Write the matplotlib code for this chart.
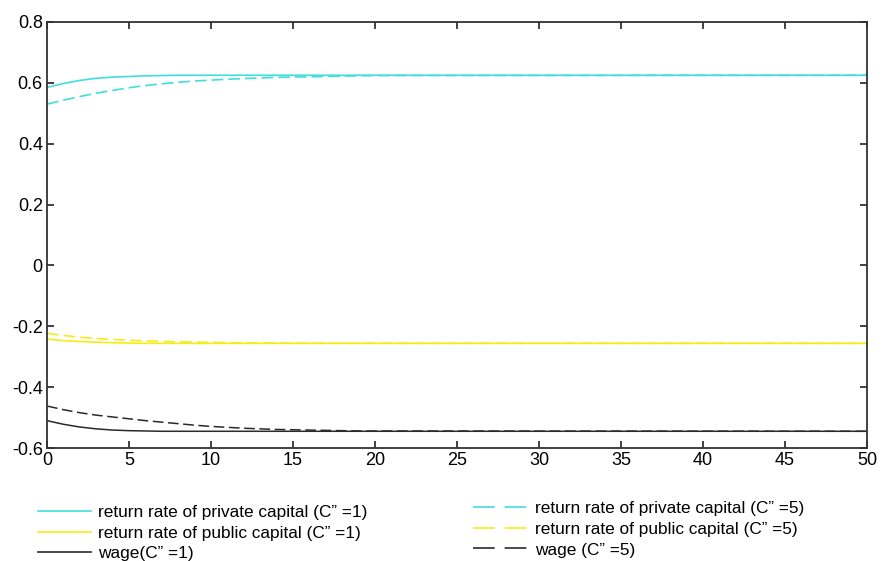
import numpy as np
import matplotlib
matplotlib.use("Agg")
from matplotlib import pyplot as plt
from matplotlib.lines import Line2D

plt.rcParams['font.family'] = ['Liberation Sans', 'DejaVu Sans']

# periods (flat after t=20)
t = [0, 1, 2, 3, 4, 5, 6, 7, 8, 9, 10, 11, 12, 13, 14, 15, 16, 17, 18, 19, 20, 50]

private_c1 = [0.585, 0.598, 0.608, 0.615, 0.619, 0.621, 0.623, 0.624, 0.625, 0.625, 0.625,
              0.625, 0.625, 0.625, 0.625, 0.625, 0.625, 0.625, 0.625, 0.625, 0.625, 0.625]
private_c5 = [0.530, 0.543, 0.555, 0.566, 0.575, 0.584, 0.591, 0.597, 0.602, 0.606, 0.609,
              0.612, 0.614, 0.616, 0.618, 0.619, 0.620, 0.621, 0.622, 0.623, 0.624, 0.625]
public_c1 = [-0.242, -0.247, -0.250, -0.252, -0.254, -0.255, -0.256, -0.256, -0.256, -0.256, -0.256,
             -0.256, -0.256, -0.256, -0.256, -0.256, -0.256, -0.256, -0.256, -0.256, -0.256, -0.256]
public_c5 = [-0.223, -0.230, -0.236, -0.240, -0.243, -0.246, -0.248, -0.250, -0.251, -0.252, -0.253,
             -0.254, -0.254, -0.255, -0.255, -0.256, -0.256, -0.256, -0.256, -0.256, -0.256, -0.256]
wage_c1 = [-0.510, -0.522, -0.531, -0.537, -0.541, -0.543, -0.544, -0.545, -0.545, -0.545, -0.545,
           -0.545, -0.545, -0.545, -0.545, -0.545, -0.545, -0.545, -0.545, -0.545, -0.545, -0.545]
wage_c5 = [-0.462, -0.474, -0.484, -0.492, -0.498, -0.504, -0.510, -0.515, -0.520, -0.525, -0.529,
           -0.532, -0.535, -0.537, -0.539, -0.540, -0.541, -0.542, -0.543, -0.544, -0.544, -0.545]

labels_c1 = ['return rate of private capital (C\u201d =1)',
             'return rate of public capital (C\u201d =1)',
             'wage(C\u201d =1)']
labels_c5 = ['return rate of private capital (C\u201d =5)',
             'return rate of public capital (C\u201d =5)',
             'wage (C\u201d =5)']

cyan = '#3fe0dc'
yellow = '#f2ee1a'
dark = '#2a2a2a'
dash = (7, 3)

fig = plt.figure(figsize=(8.82, 5.61), dpi=100)
ax = fig.add_axes([0.0533, 0.2014, 0.9297, 0.7594])

ax.plot(t, private_c1, color=cyan, lw=1.2)
ax.plot(t, public_c1, color=yellow, lw=1.2)
ax.plot(t, wage_c1, color=dark, lw=1.1)
ax.plot(t, private_c5, color=cyan, lw=1.2, dashes=dash)
ax.plot(t, public_c5, color=yellow, lw=1.2, dashes=dash)
ax.plot(t, wage_c5, color=dark, lw=1.1, dashes=dash)

ax.set_xlim(0, 50)
ax.set_ylim(-0.6, 0.8)
ax.set_xticks(np.arange(0, 51, 5))
ax.set_yticks(np.arange(-0.6, 0.81, 0.2))
ax.set_yticklabels(['-0.6', '-0.4', '-0.2', '0', '0.2', '0.4', '0.6', '0.8'])
ax.tick_params(direction='in', top=True, right=True, length=5, width=1.2,
               labelsize=13, pad=3, colors='#222222', labelcolor='black')
for s in ax.spines.values():
    s.set_linewidth(1.3)
    s.set_color('#333333')

h1 = [Line2D([], [], color=c, lw=1.2) for c in (cyan, yellow, dark)]
h5 = [Line2D([], [], color=c, lw=1.2, dashes=(13, 6)) for c in (cyan, yellow, dark)]
leg_font = {'family': ['Liberation Sans', 'DejaVu Sans'], 'size': 12.4}
fig.legend(h1, labels_c1, loc='upper left', bbox_to_anchor=(0.0431, 0.1000), frameon=False,
           prop=leg_font, handlelength=3.1, handletextpad=0.4, labelspacing=0.33,
           borderpad=0, borderaxespad=0)
fig.legend(h5, labels_c5, loc='upper left', bbox_to_anchor=(0.5363, 0.1070), frameon=False,
           prop=leg_font, handlelength=3.2, handletextpad=0.4, labelspacing=0.33,
           borderpad=0, borderaxespad=0)

fig.savefig('out.png', dpi=100)
